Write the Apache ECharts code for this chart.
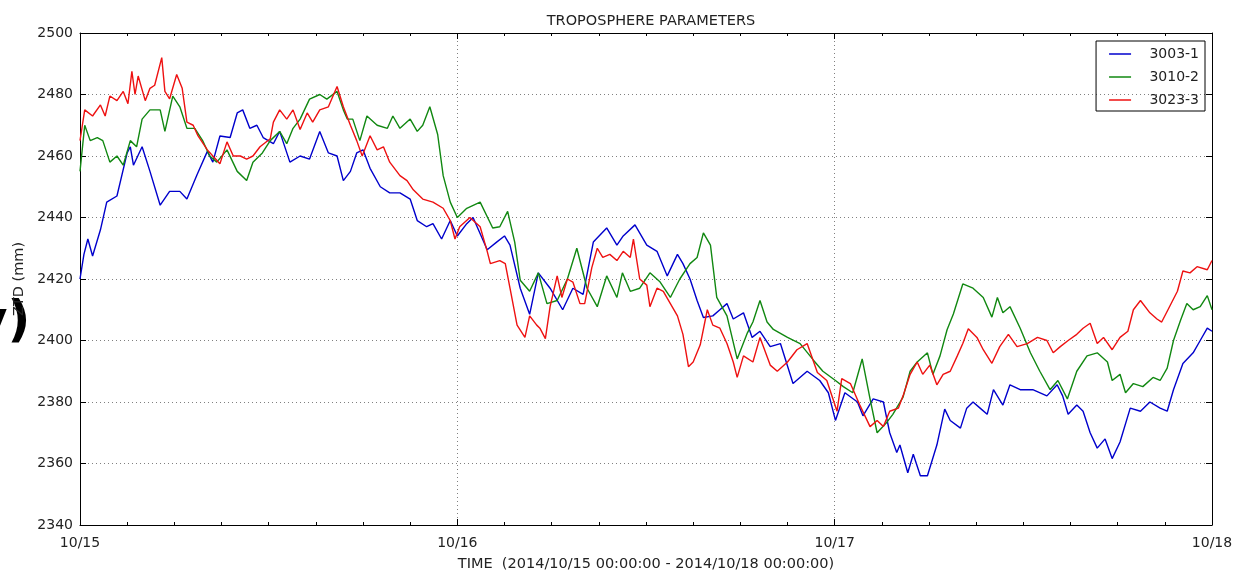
<!DOCTYPE html>
<html>
<head>
<meta charset="utf-8">
<script src="https://cdn.jsdelivr.net/npm/echarts@6/dist/echarts.min.js"></script>
<style>
  html, body { margin: 0; padding: 0; background: #fff; }
  #chart { width: 1240px; height: 577px; }
</style>
</head>
<body>
<div id="chart"></div>
<script>
// hours since 2014/10/15 00:00, ZTD in mm
const xTickLabels = ['10/15', '10/16', '10/17', '10/18']
const seriesNames = ['3003-1', '3010-2', '3023-3']

const ztd3003 = [
  [0, 2420], [0.25, 2428], [0.5, 2433], [0.8, 2427.5], [1.3, 2436], [1.7, 2445], [2.35, 2447],
  [3.0, 2461], [3.2, 2463], [3.4, 2457], [3.95, 2463], [4.45, 2455], [5.1, 2444], [5.7, 2448.5],
  [6.35, 2448.5], [6.8, 2446], [7.45, 2454], [8.1, 2461.5], [8.45, 2458], [8.9, 2466.5], [9.55, 2466],
  [10.0, 2474], [10.35, 2475], [10.8, 2469], [11.25, 2470], [11.65, 2466], [12.3, 2464], [12.7, 2468],
  [13.35, 2458], [14.0, 2460], [14.6, 2459], [15.25, 2468], [15.8, 2461], [16.35, 2460], [16.75, 2452],
  [17.2, 2455], [17.6, 2461], [18.0, 2462], [18.45, 2456], [19.1, 2450], [19.7, 2448], [20.35, 2448],
  [21.0, 2446], [21.45, 2439], [22.05, 2437], [22.45, 2438], [23.0, 2433], [23.55, 2439], [24.0, 2434],
  [24.6, 2438], [25.0, 2440], [25.9, 2429.5], [26.5, 2432], [27.0, 2434], [27.35, 2431], [28.0, 2417],
  [28.6, 2408.5], [29.15, 2422], [29.9, 2417], [30.7, 2410], [31.35, 2417], [32.0, 2415], [32.65, 2432],
  [33.5, 2436.6], [34.15, 2431], [34.55, 2434], [35.3, 2437.6], [36.05, 2431], [36.7, 2429], [37.35, 2421],
  [38.0, 2428], [38.35, 2425], [38.8, 2420], [39.25, 2413], [39.65, 2407.5], [40.25, 2408], [40.7, 2410],
  [41.15, 2412], [41.55, 2407], [42.2, 2409], [42.75, 2401], [43.25, 2403], [43.9, 2398], [44.55, 2399],
  [45.35, 2386], [46.25, 2390], [47.05, 2387], [47.6, 2383], [48.05, 2374], [48.65, 2383], [49.45, 2380],
  [49.8, 2375.5], [50.45, 2381], [51.1, 2380], [51.5, 2370], [51.95, 2363.6], [52.15, 2366], [52.65, 2357],
  [53.0, 2363], [53.45, 2356], [53.9, 2356], [54.5, 2366], [55.0, 2377.7], [55.35, 2374], [56.0, 2371.5],
  [56.4, 2378], [56.8, 2380], [57.25, 2378], [57.7, 2376], [58.1, 2384], [58.7, 2379], [59.15, 2385.6],
  [59.8, 2384], [60.6, 2384], [61.5, 2382], [62.15, 2385.6], [62.5, 2382], [62.85, 2376], [63.4, 2379],
  [63.8, 2377], [64.25, 2370], [64.7, 2365], [65.2, 2368], [65.65, 2361.6], [66.15, 2367], [66.8, 2378],
  [67.45, 2377], [68.05, 2380], [68.7, 2378], [69.15, 2377], [69.55, 2384], [70.15, 2392.5], [70.8, 2396],
  [71.25, 2400], [71.7, 2404], [72.0, 2403]
]

const ztd3010 = [
  [0, 2455], [0.3, 2470], [0.65, 2465], [1.1, 2466], [1.45, 2465], [1.9, 2458], [2.35, 2460], [2.75, 2457],
  [3.2, 2465], [3.6, 2463], [3.95, 2472], [4.45, 2475], [5.1, 2475], [5.4, 2468], [5.9, 2479.5], [6.35, 2476],
  [6.8, 2469], [7.3, 2469], [7.8, 2465], [8.25, 2460], [8.7, 2458], [9.35, 2462], [10.0, 2455], [10.6, 2452],
  [11.0, 2458], [11.6, 2461], [12.1, 2465], [12.7, 2468], [13.15, 2464], [13.55, 2469], [14.0, 2472],
  [14.6, 2478.5], [15.25, 2480], [15.7, 2478.5], [16.35, 2481], [16.75, 2475], [17.0, 2472], [17.35, 2472],
  [17.8, 2465], [18.25, 2473], [18.9, 2470], [19.55, 2469], [19.9, 2473], [20.35, 2469], [21.0, 2472],
  [21.45, 2468], [21.8, 2470], [22.25, 2476], [22.75, 2467], [23.1, 2453.6], [23.55, 2445], [24.0, 2440],
  [24.6, 2443], [25.45, 2445], [26.25, 2436.6], [26.7, 2437], [27.2, 2442], [27.65, 2432], [28.0, 2419.6],
  [28.6, 2416], [29.15, 2422], [29.7, 2412], [30.35, 2413], [31.0, 2420], [31.6, 2430], [32.25, 2417],
  [32.9, 2411], [33.5, 2421], [34.15, 2414], [34.5, 2422], [35.0, 2416], [35.6, 2417], [36.25, 2422],
  [36.9, 2419], [37.55, 2414], [38.15, 2420], [38.8, 2425], [39.25, 2427], [39.65, 2435], [40.1, 2431],
  [40.5, 2414], [41.15, 2408], [41.8, 2394], [42.45, 2402.5], [42.8, 2406], [43.25, 2413], [43.7, 2406],
  [44.1, 2403.6], [45.0, 2401], [45.8, 2399], [46.65, 2393.6], [47.25, 2390], [48.05, 2387], [48.55, 2385],
  [49.15, 2383], [49.75, 2394], [50.25, 2381], [50.7, 2370], [51.35, 2373.6], [51.7, 2376], [52.35, 2381.6],
  [52.8, 2390], [53.25, 2393], [53.9, 2396], [54.25, 2389], [54.7, 2395], [55.15, 2403.5], [55.55, 2408.6],
  [56.15, 2418.4], [56.8, 2417], [57.45, 2414], [58.0, 2407.6], [58.35, 2414], [58.7, 2409], [59.15, 2411],
  [59.8, 2404], [60.45, 2396], [61.05, 2390], [61.7, 2384], [62.2, 2387], [62.8, 2381], [63.4, 2390],
  [64.05, 2395], [64.7, 2396], [65.35, 2393], [65.65, 2387], [66.15, 2389], [66.5, 2383], [67.0, 2386],
  [67.6, 2385], [68.25, 2388], [68.7, 2387], [69.15, 2391], [69.55, 2400], [70.0, 2406.6], [70.4, 2412],
  [70.8, 2410], [71.25, 2411], [71.7, 2414.6], [72.0, 2410]
]

const ztd3023 = [
  [0, 2465], [0.15, 2470], [0.3, 2475], [0.8, 2473], [1.3, 2476.6], [1.6, 2473], [1.9, 2479.5], [2.35, 2478],
  [2.75, 2481], [3.05, 2477], [3.3, 2487.5], [3.5, 2480], [3.7, 2486], [4.15, 2478], [4.45, 2482], [4.75, 2483],
  [5.2, 2492], [5.4, 2481], [5.7, 2478.6], [6.15, 2486.5], [6.5, 2482], [6.8, 2471], [7.2, 2470], [7.5, 2466.6],
  [8.1, 2462], [8.45, 2460], [8.9, 2457.5], [9.35, 2464.6], [9.75, 2460], [10.2, 2460], [10.6, 2459], [11.0, 2460],
  [11.45, 2463], [12.1, 2465.6], [12.3, 2471], [12.7, 2475], [13.15, 2472], [13.55, 2475], [14.0, 2468.6],
  [14.45, 2474], [14.8, 2471], [15.25, 2475], [15.8, 2476], [16.35, 2482.6], [16.75, 2476], [17.2, 2470],
  [17.6, 2465], [17.95, 2460], [18.45, 2466.6], [18.9, 2462], [19.3, 2463], [19.7, 2458], [20.35, 2453.6],
  [20.8, 2452], [21.2, 2449], [21.8, 2446], [22.45, 2445], [23.1, 2443], [23.55, 2439], [23.85, 2433],
  [24.15, 2437], [24.8, 2440], [25.45, 2437], [25.9, 2429], [26.1, 2425], [26.7, 2426], [27.05, 2425],
  [27.35, 2417], [27.8, 2405], [28.3, 2401], [28.6, 2408], [29.05, 2405], [29.25, 2404], [29.6, 2400.6],
  [29.9, 2411], [30.35, 2421], [30.65, 2414], [31.0, 2420], [31.35, 2419], [31.8, 2412], [32.1, 2412],
  [32.55, 2423.6], [32.9, 2430], [33.25, 2427], [33.7, 2428], [34.15, 2426], [34.55, 2429], [35.0, 2427],
  [35.2, 2433], [35.6, 2420], [36.05, 2418], [36.25, 2411], [36.7, 2417], [37.1, 2416], [37.55, 2412],
  [38.0, 2408], [38.35, 2402], [38.7, 2391.5], [39.0, 2393], [39.45, 2398.6], [39.9, 2410], [40.25, 2405],
  [40.7, 2404], [41.15, 2399], [41.55, 2393], [41.8, 2388], [42.2, 2395], [42.8, 2393], [43.25, 2401],
  [43.9, 2392], [44.35, 2390], [45.0, 2393], [45.6, 2397], [46.25, 2399], [46.9, 2389.6], [47.5, 2387],
  [48.15, 2377], [48.45, 2387.6], [49.0, 2386], [49.6, 2379], [50.25, 2372], [50.7, 2374], [51.1, 2372],
  [51.5, 2377], [52.05, 2378], [52.35, 2382], [52.8, 2389], [53.25, 2393], [53.6, 2389], [54.05, 2392],
  [54.5, 2385.6], [54.9, 2389], [55.35, 2390], [55.8, 2395], [56.15, 2399], [56.5, 2403.8], [57.05, 2401],
  [57.45, 2397], [58.0, 2392.6], [58.5, 2398], [59.05, 2402], [59.6, 2398], [60.25, 2399], [60.9, 2401],
  [61.5, 2400], [61.9, 2396], [62.35, 2398], [62.85, 2400], [63.4, 2402], [63.8, 2404], [64.25, 2405.6],
  [64.7, 2399], [65.1, 2401], [65.65, 2397], [66.15, 2401], [66.65, 2403], [67.0, 2410], [67.45, 2413],
  [68.05, 2409], [68.5, 2407], [68.8, 2406], [69.2, 2410], [69.8, 2416], [70.15, 2422.6], [70.6, 2422],
  [71.05, 2424], [71.7, 2423], [72.0, 2426]
]

const chart = echarts.init(document.getElementById('chart'))

const font = 'DejaVu Sans'
const tickStyle = { show: true, inside: true, length: 6, lineStyle: { color: '#000' } }
const minorStyle = { show: true, splitNumber: 8, length: 3, lineStyle: { color: '#000' } }
const frameLine = { show: true, onZero: false, lineStyle: { color: '#000', width: 1 } }
const gridLine = { show: true, lineStyle: { color: '#808080', type: [1, 3], width: 1 } }

const lineSeries = (name, data, color) => ({
  name: name,
  type: 'line',
  xAxisIndex: 0,
  yAxisIndex: 0,
  data: data,
  symbol: 'none',
  lineStyle: { color: color, width: 1.4 },
  itemStyle: { color: color }
})

chart.setOption({
  animation: false,
  backgroundColor: '#fff',
  title: {
    text: 'TROPOSPHERE PARAMETERS',
    left: 646,
    textAlign: 'center',
    top: 9,
    textStyle: { fontFamily: font, fontSize: 14.5, fontWeight: 'normal', color: '#222' }
  },
  legend: {
    orient: 'vertical',
    right: 35,
    top: 41,
    padding: [6, 6, 4, 13],
    itemGap: 9,
    itemWidth: 22,
    itemHeight: 1.5,
    icon: 'rect',
    borderColor: '#000',
    borderWidth: 1,
    borderRadius: 0,
    formatter: name => '   ' + name,
    textStyle: { fontFamily: font, fontSize: 14, lineHeight: 14, color: '#222' },
    data: seriesNames
  },
  grid: { left: 80, right: 28, top: 33, bottom: 47, containLabel: false },
  xAxis: [{
    type: 'value',
    min: 0,
    max: 72,
    interval: 24,
    name: 'TIME  (2014/10/15 00:00:00 - 2014/10/18 00:00:00)',
    nameLocation: 'middle',
    nameGap: 32,
    nameTextStyle: { fontFamily: font, fontSize: 14.5, color: '#222' },
    axisLine: frameLine,
    axisTick: tickStyle,
    minorTick: minorStyle,
    axisLabel: {
      fontFamily: font, fontSize: 14, color: '#222', margin: 11,
      formatter: v => xTickLabels[Math.round(v / 24)]
    },
    splitLine: gridLine
  }, {
    type: 'value',
    position: 'top',
    min: 0,
    max: 72,
    interval: 24,
    axisLine: frameLine,
    axisTick: tickStyle,
    minorTick: minorStyle,
    axisLabel: { show: false },
    splitLine: { show: false }
  }],
  yAxis: [{
    type: 'value',
    min: 2340,
    max: 2500,
    interval: 20,
    name: 'ZTD (mm)',
    nameLocation: 'middle',
    nameRotate: 90,
    nameGap: 42,
    nameTextStyle: { fontFamily: font, fontSize: 14.5, color: '#222' },
    axisLine: frameLine,
    axisTick: tickStyle,
    axisLabel: { fontFamily: font, fontSize: 14, color: '#222', margin: 7, formatter: v => String(v) },
    splitLine: gridLine
  }, {
    type: 'value',
    position: 'right',
    min: 2340,
    max: 2500,
    interval: 20,
    axisLine: frameLine,
    axisTick: tickStyle,
    axisLabel: { show: false },
    splitLine: { show: false }
  }],
  graphic: [{
    // cropped caption fragment at the left edge of the source image
    type: 'text',
    left: -25,
    top: 298,
    style: { text: 'y)', font: 'bold 50px "DejaVu Sans"', fill: '#000' }
  }],
  series: [
    lineSeries(seriesNames[0], ztd3003, '#0000cc'),
    lineSeries(seriesNames[1], ztd3010, '#118811'),
    lineSeries(seriesNames[2], ztd3023, '#ee1111')
  ]
})
</script>
</body>
</html>
